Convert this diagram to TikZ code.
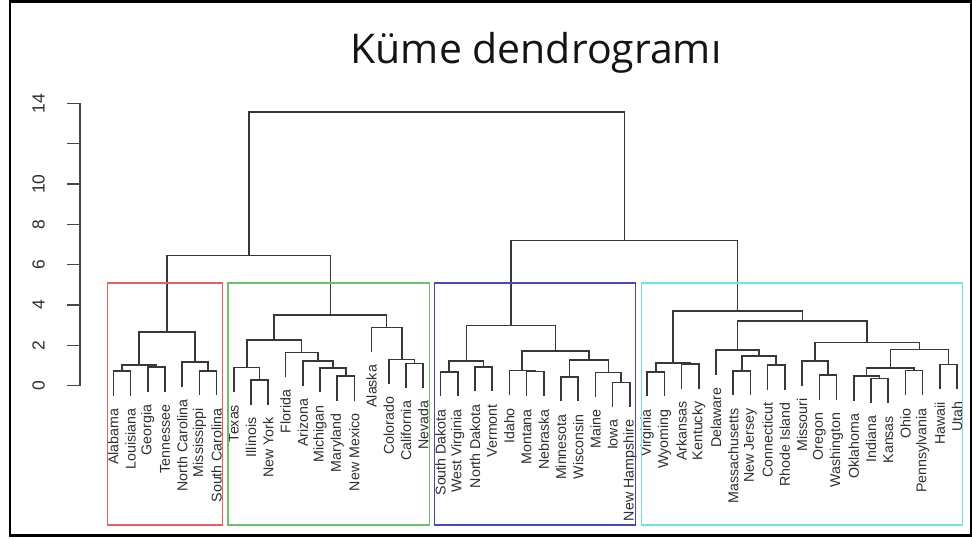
\documentclass[tikz,border=0pt]{standalone}
\usepackage{fontspec}
\setmainfont{Liberation Sans}
\newfontfamily\titlefont{Open Sans}

% leaf: name, index, height of the parent merge, label
\newcommand\leafpt[4]{%
  \coordinate (#1) at ({113.3+17.22*#2},{#3+24.5});
  \node[leaflabel] (#1-lab) at ([yshift=-13pt]#1) {#4};
}
% merge of two clusters: name, left child, right child, merge height
\newcommand\joinpair[4]{%
  \path (#2) -- (#3) coordinate[pos=0.5] (#1-c);
  \coordinate (#1) at (#1-c |- 0,#4);
  \draw[branch] (#2) |- (#1) -| (#3);
}

\begin{document}
\begin{tikzpicture}[x=1pt,y=-1pt,
  branch/.style={draw=black!78, line width=1.6pt},
  leaflabel/.style={rotate=90, anchor=east, inner sep=0pt, text=black!82,
    font=\fontsize{14.2}{14.2}\selectfont},
  axisline/.style={draw=black!72, line width=1.4pt},
  ticklabel/.style={rotate=90, inner sep=0pt, text=black!82,
    font=\fontsize{17.5}{17.5}\selectfont},
  clusterbox/.style={line width=1.3pt}]
\useasboundingbox (0,0) rectangle (972,540);
\fill[white] (0,0) rectangle (972,540);

% title
\node[font=\titlefont\fontsize{41}{41}\selectfont, anchor=base, text=black!92]
  (title) at (536,64) {Küme dendrogramı};

% y axis
\draw[axisline] (80,103.3) -- (80,385.7);
\foreach \v in {0,2,...,14}
  \draw[axisline] (80,{385.7-20.17*\v}) -- (67,{385.7-20.17*\v});
\foreach \v in {0,2,4,6,8,10,14}
  \node[ticklabel] (tick\v) at (38.5,{385.7-20.17*\v}) {\v};

% leaves
\leafpt{AL}{0}{371}{Alabama}
\leafpt{LA}{1}{371}{Louisiana}
\leafpt{GA}{2}{367}{Georgia}
\leafpt{TN}{3}{367}{Tennessee}
\leafpt{NC}{4}{362}{North Carolina}
\leafpt{MS}{5}{370.7}{Mississippi}
\leafpt{SC}{6}{370.7}{South Carolina}
\leafpt{TX}{7}{367.3}{Texas}
\leafpt{IL}{8}{380}{Illinois}
\leafpt{NY}{9}{380}{New York}
\leafpt{FL}{10}{352.3}{Florida}
\leafpt{AZ}{11}{361}{Arizona}
\leafpt{MI}{12}{367.7}{Michigan}
\leafpt{MD}{13}{376}{Maryland}
\leafpt{NM}{14}{376}{New Mexico}
\leafpt{AK}{15}{327.3}{Alaska}
\leafpt{CO}{16}{359.3}{Colorado}
\leafpt{CA}{17}{363.3}{California}
\leafpt{NV}{18}{363.3}{Nevada}
\leafpt{SD}{19}{371.7}{South Dakota}
\leafpt{WV}{20}{371.7}{West Virginia}
\leafpt{ND}{21}{366.7}{North Dakota}
\leafpt{VT}{22}{366.7}{Vermont}
\leafpt{ID}{23}{370.5}{Idaho}
\leafpt{MT}{24}{371.5}{Montana}
\leafpt{NE}{25}{371.5}{Nebraska}
\leafpt{MN}{26}{376.7}{Minnesota}
\leafpt{WI}{27}{376.7}{Wisconsin}
\leafpt{ME}{28}{372.3}{Maine}
\leafpt{IA}{29}{382.3}{Iowa}
\leafpt{NH}{30}{382.3}{New Hampshire}
\leafpt{VA}{31}{371.7}{Virginia}
\leafpt{WY}{32}{371.7}{Wyoming}
\leafpt{AR}{33}{364}{Arkansas}
\leafpt{KY}{34}{364}{Kentucky}
\leafpt{DE}{35}{350}{Delaware}
\leafpt{MA}{36}{370.7}{Massachusetts}
\leafpt{NJ}{37}{370.7}{New Jersey}
\leafpt{CT}{38}{365}{Connecticut}
\leafpt{RI}{39}{365}{Rhode Island}
\leafpt{MO}{40}{361}{Missouri}
\leafpt{OR}{41}{375}{Oregon}
\leafpt{WA}{42}{375}{Washington}
\leafpt{OK}{43}{376}{Oklahoma}
\leafpt{IN}{44}{378.3}{Indiana}
\leafpt{KS}{45}{378.3}{Kansas}
\leafpt{OH}{46}{370.5}{Ohio}
\leafpt{PA}{47}{370.5}{Pennsylvania}
\leafpt{HI}{48}{364.3}{Hawaii}
\leafpt{UT}{49}{364.3}{Utah}

% first group
\joinpair{ALLA}{AL}{LA}{371}
\joinpair{GATN}{GA}{TN}{367}
\joinpair{r1}{ALLA}{GATN}{365}
\joinpair{MSSC}{MS}{SC}{370.7}
\joinpair{r2}{NC}{MSSC}{362}
\joinpair{red}{r1}{r2}{331.7}

% second group
\joinpair{ILNY}{IL}{NY}{380}
\joinpair{g1}{TX}{ILNY}{367.3}
\joinpair{MDNM}{MD}{NM}{376}
\joinpair{g2}{MI}{MDNM}{367.7}
\joinpair{g3}{AZ}{g2}{361}
\joinpair{g4}{FL}{g3}{352.3}
\joinpair{gL}{g1}{g4}{340}
\joinpair{CANV}{CA}{NV}{363.3}
\joinpair{g5}{CO}{CANV}{359.3}
\joinpair{gR}{AK}{g5}{327.3}
\joinpair{green}{gL}{gR}{315}
\joinpair{RG}{red}{green}{255.7}

% third group
\joinpair{SDWV}{SD}{WV}{371.7}
\joinpair{NDVT}{ND}{VT}{366.7}
\joinpair{bL}{SDWV}{NDVT}{360.7}
\joinpair{MTNE}{MT}{NE}{371.5}
\joinpair{b1}{ID}{MTNE}{370.5}
\joinpair{MNWI}{MN}{WI}{376.7}
\joinpair{IANH}{IA}{NH}{382.3}
\joinpair{b2}{ME}{IANH}{372.3}
\joinpair{b3}{MNWI}{b2}{360}
\joinpair{bR}{b1}{b3}{351}
\joinpair{blue}{bL}{bR}{325.5}

% fourth group
\joinpair{VAWY}{VA}{WY}{371.7}
\joinpair{ARKY}{AR}{KY}{364}
\joinpair{cL}{VAWY}{ARKY}{362.7}
\joinpair{MANJ}{MA}{NJ}{370.7}
\joinpair{CTRI}{CT}{RI}{365}
\joinpair{c1}{MANJ}{CTRI}{355.7}
\joinpair{c2}{DE}{c1}{350}
\joinpair{ORWA}{OR}{WA}{375}
\joinpair{c3}{MO}{ORWA}{361}
\joinpair{INKS}{IN}{KS}{378.3}
\joinpair{c4}{OK}{INKS}{376}
\joinpair{OHPA}{OH}{PA}{370.5}
\joinpair{c5}{c4}{OHPA}{368}
\joinpair{HIUT}{HI}{UT}{364.3}
\joinpair{c6}{c5}{HIUT}{349.3}
\joinpair{c7}{c3}{c6}{342.3}
\joinpair{c8}{c2}{c7}{320.7}
\joinpair{cyan}{cL}{c8}{310.7}
\joinpair{BC}{blue}{cyan}{240.7}
\joinpair{root}{RG}{BC}{112.3}

% cluster rectangles
\draw[clusterbox, draw={rgb,255:red,228;green,96;blue,96}] (107.4,283) rectangle (222.3,525);
\draw[clusterbox, draw={rgb,255:red,104;green,196;blue,104}] (227.9,283) rectangle (429.3,525);
\draw[clusterbox, draw={rgb,255:red,72;green,72;blue,184}] (434.6,283) rectangle (635.8,525);
\draw[clusterbox, draw={rgb,255:red,110;green,228;blue,228}] (641.2,283) rectangle (962.8,525);

% outer frame
\draw[line width=2.5pt, black] (10,1.5) rectangle (970.8,535.5);
\end{tikzpicture}
\end{document}
